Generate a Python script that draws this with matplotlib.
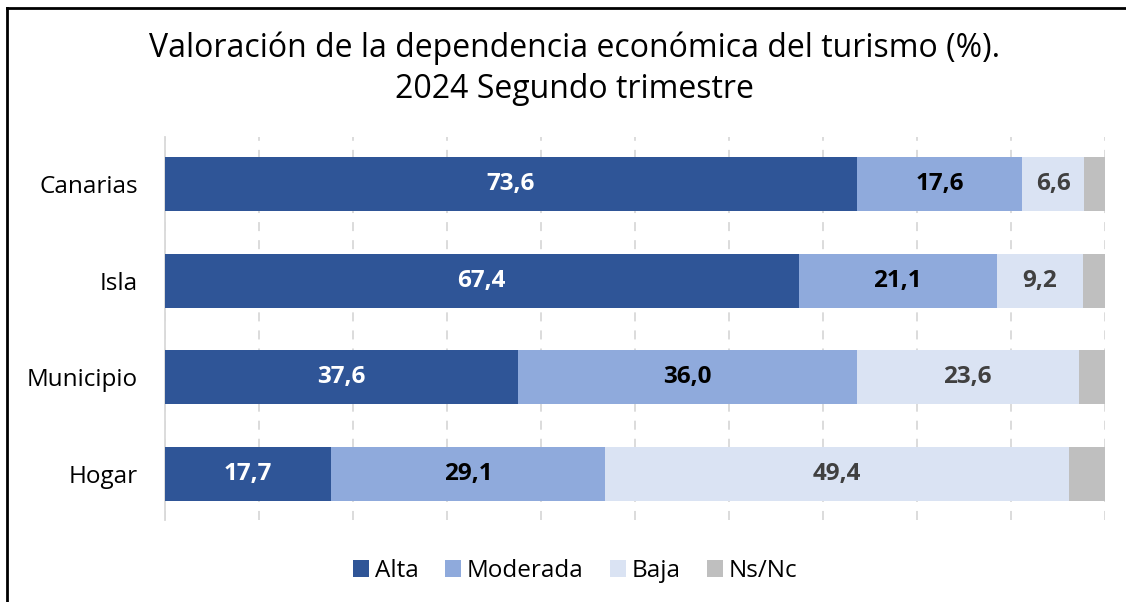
import matplotlib.pyplot as plt
from matplotlib.lines import Line2D

plt.rcParams['font.family'] = ['Open Sans', 'DejaVu Sans']

categorias = ["Canarias", "Isla", "Municipio", "Hogar"]
series = ["Alta", "Moderada", "Baja", "Ns/Nc"]
alta = [73.6, 67.4, 37.6, 17.7]
moderada = [17.6, 21.1, 36.0, 29.1]
baja = [6.6, 9.2, 23.6, 49.4]
nsnc = [2.2, 2.3, 2.8, 3.8]

colores = ["#2F5597", "#8FAADC", "#DAE3F3", "#BFBFBF"]
color_txt = ["white", "black", "#404040", None]

fig = plt.figure(figsize=(11.26, 6.02), dpi=100)
ax = fig.add_axes([0.1465, 0.1362, 0.8348, 0.6362])

valores = [alta, moderada, baja, nsnc]
izq = [0.0] * len(categorias)
y = list(range(len(categorias)))
for i, vals in enumerate(valores):
    bars = ax.barh(y, vals, left=izq, height=0.56, color=colores[i],
                   label=series[i], zorder=3)
    if color_txt[i] is not None:
        ax.bar_label(bars, labels=[f"{v:.1f}".replace(".", ",") for v in vals],
                     label_type="center", color=color_txt[i],
                     fontsize=17.5, fontweight="bold")
    izq = [a + b for a, b in zip(izq, vals)]

ax.set_xlim(0, 100)
ax.set_ylim(3.48, -0.49)
ax.set_yticks(y)
ax.set_yticklabels(categorias, fontsize=17.5)
ax.set_xticks(range(0, 101, 10))
ax.set_xticklabels([])
ax.tick_params(length=0, pad=19.5)
ax.grid(axis="x", color="#d9d9d9", linestyle=(0, (5, 5)), linewidth=1.3, zorder=0)
for s in ["top", "right", "bottom"]:
    ax.spines[s].set_visible(False)
ax.spines["left"].set_color("#d9d9d9")
ax.spines["left"].set_linewidth(1.3)

fig.text(0.51, 0.886, "Valoración de la dependencia económica del turismo (%).\n2024 Segundo trimestre",
         ha="center", va="center", fontsize=23, linespacing=1.3)

fig.legend(loc="center", bbox_to_anchor=(0.511, 0.0515), ncol=4, frameon=False,
           fontsize=17.5, handlelength=0.66, handleheight=0.66, handletextpad=0.25,
           columnspacing=1.07)

fig.add_artist(Line2D([0.0065, 0.0065], [0, 0.987], color="black", linewidth=2))
fig.add_artist(Line2D([0.0065, 1], [0.987, 0.987], color="black", linewidth=2))

fig.savefig("out.png")
